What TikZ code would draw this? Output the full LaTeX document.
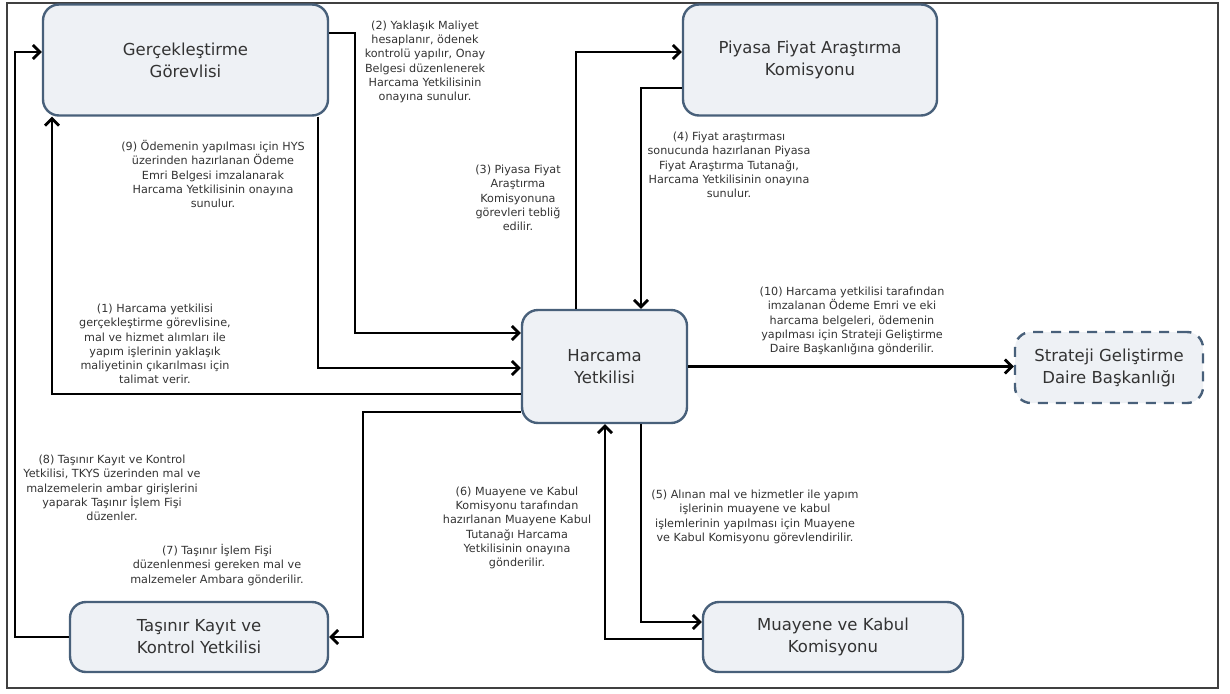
\documentclass[tikz,border=0pt]{standalone}
\usepackage{fontspec}
\setmainfont{DejaVu Sans}
\usetikzlibrary{arrows.meta}
\definecolor{kutudolgu}{RGB}{238,241,245}
\definecolor{kutukenar}{RGB}{72,96,122}
\begin{document}
\begin{tikzpicture}[x=1pt,y=-1pt,
	kutu/.style={draw=kutukenar,fill=kutudolgu,line width=2.4pt,rounded corners=16pt,align=center,text=black!80,font=\fontsize{16.5}{22}\selectfont,inner sep=0pt},
	aciklama/.style={align=center,text=black!80,font=\fontsize{11.2}{14.2}\selectfont,inner sep=0pt},
	akis/.style={line width=2.8pt,-{Straight Barb[length=7pt,width=14pt]}}]
	\useasboundingbox (0,0) rectangle (1230,693);
	\draw[line width=2pt,black!75] (7,3) rectangle (1218,688);
	\node[kutu,minimum width=285pt,minimum height=111pt] (gercek) at (185.5,60) {Gerçekleştirme\\Görevlisi};
	\node[kutu,minimum width=254pt,minimum height=111pt] (piyasa) at (810,60) {Piyasa Fiyat Araştırma\\Komisyonu};
	\node[kutu,minimum width=165pt,minimum height=113pt] (harcama) at (604.5,366.5) {Harcama\\Yetkilisi};
	\node[kutu,dashed,dash pattern=on 10pt off 8pt,minimum width=188pt,minimum height=71pt] (strateji) at (1109,367.5) {Strateji Geliştirme\\Daire Başkanlığı};
	\node[kutu,minimum width=258pt,minimum height=70pt] (tasinir) at (199,637) {Taşınır Kayıt ve\\Kontrol Yetkilisi};
	\node[kutu,minimum width=260pt,minimum height=70pt] (muayene) at (833,637) {Muayene ve Kabul\\Komisyonu};
	\coordinate (k1) at (52,394);
	\coordinate (k2a) at (355,33);
	\coordinate (k2b) at (355,333);
	\coordinate (k3) at (576,52);
	\coordinate (k4) at (641,88);
	\coordinate (k5) at (641,622);
	\coordinate (k6) at (605,639);
	\coordinate (k7) at (363,412);
	\coordinate (k8) at (15,52);
	\coordinate (k9) at (318,368);
	\draw[akis] (k1 -| harcama.west) -- (k1) -- (k1 |- gercek.south);
	\draw[akis] (k2a -| gercek.east) -- (k2a) -- (k2b) -- (k2b -| harcama.west);
	\draw[akis] (k3 |- harcama.north) -- (k3) -- (k3 -| piyasa.west);
	\draw[akis] (k4 -| piyasa.west) -- (k4) -- (k4 |- harcama.north);
	\draw[akis] (k5 |- harcama.south) -- (k5) -- (k5 -| muayene.west);
	\draw[akis] (k6 -| muayene.west) -- (k6) -- (k6 |- harcama.south);
	\draw[akis] (k7 -| harcama.west) -- (k7) |- (tasinir);
	\draw[akis] (tasinir.west) -| (k8) -- (k8 -| gercek.west);
	\draw[akis] (k9 |- gercek.south) -- (k9) -- (k9 -| harcama.west);
	\draw[akis] (harcama.east) -- (harcama.east -| strateji.west);
	\node[aciklama] (n1) at (155,344) {(1) Harcama yetkilisi\\gerçekleştirme görevlisine,\\mal ve hizmet alımları ile\\yapım işlerinin yaklaşık\\maliyetinin çıkarılması için\\talimat verir.};
	\node[aciklama] (n2) at (425,62) {(2) Yaklaşık Maliyet\\hesaplanır, ödenek\\kontrolü yapılır, Onay\\Belgesi düzenlenerek\\Harcama Yetkilisinin\\onayına sunulur.};
	\node[aciklama] (n3) at (518,198) {(3) Piyasa Fiyat\\Araştırma\\Komisyonuna\\görevleri tebliğ\\edilir.};
	\node[aciklama] (n4) at (729,165) {(4) Fiyat araştırması\\sonucunda hazırlanan Piyasa\\Fiyat Araştırma Tutanağı,\\Harcama Yetkilisinin onayına\\sunulur.};
	\node[aciklama] (n5) at (755,517) {(5) Alınan mal ve hizmetler ile yapım\\işlerinin muayene ve kabul\\işlemlerinin yapılması için Muayene\\ve Kabul Komisyonu görevlendirilir.};
	\node[aciklama] (n6) at (517,528) {(6) Muayene ve Kabul\\Komisyonu tarafından\\hazırlanan Muayene Kabul\\Tutanağı Harcama\\Yetkilisinin onayına\\gönderilir.};
	\node[aciklama] (n7) at (217,565) {(7) Taşınır İşlem Fişi\\düzenlenmesi gereken mal ve\\malzemeler Ambara gönderilir.};
	\node[aciklama] (n8) at (112,488) {(8) Taşınır Kayıt ve Kontrol\\Yetkilisi, TKYS üzerinden mal ve\\malzemelerin ambar girişlerini\\yaparak Taşınır İşlem Fişi\\düzenler.};
	\node[aciklama] (n9) at (213,174) {(9) Ödemenin yapılması için HYS\\üzerinden hazırlanan Ödeme\\Emri Belgesi imzalanarak\\Harcama Yetkilisinin onayına\\sunulur.};
	\node[aciklama] (n10) at (852,321) {(10) Harcama yetkilisi tarafından\\imzalanan Ödeme Emri ve eki\\harcama belgeleri, ödemenin\\yapılması için Strateji Geliştirme\\Daire Başkanlığına gönderilir.};
\end{tikzpicture}
\end{document}
